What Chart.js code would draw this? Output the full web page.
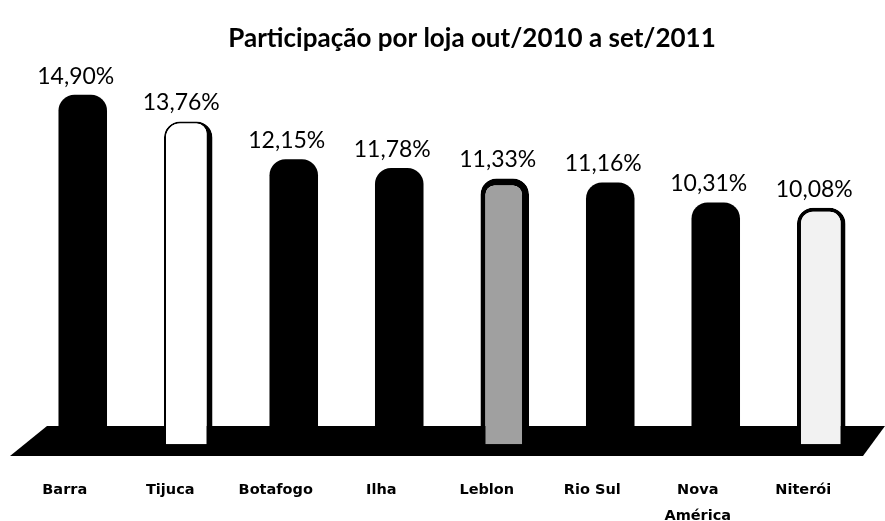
<!DOCTYPE html>
<html>
<head>
<meta charset="utf-8">
<script src="https://cdn.jsdelivr.net/npm/chart.js@4.4.1/dist/chart.umd.min.js"></script>
<style>
  html, body { margin: 0; padding: 0; background: #fff; }
  #wrap { width: 885px; height: 521px; }
</style>
</head>
<body>
<div id="wrap"><canvas id="lojasChart"></canvas></div>
<script>
// lojas e participação (%)
const lojas = ['Barra', 'Tijuca', 'Botafogo', 'Ilha', 'Leblon', 'Rio Sul', ['Nova', 'América'], 'Niterói'];
const participacao = [14.90, 13.76, 12.15, 11.78, 11.33, 11.16, 10.31, 10.08];

const tituloGrafico = 'Participação por loja out/2010 a set/2011';

// piso em "3D" desenhado atrás das barras
const pisoPlugin = {
    id: 'piso',
    beforeDatasetsDraw(chart) {
        const { ctx, chartArea } = chart;
        const fundo = chartArea.bottom - 30;
        const frente = chartArea.bottom;
        ctx.save();
        ctx.fillStyle = '#000';
        ctx.beginPath();
        ctx.moveTo(chartArea.left + 17, fundo);
        ctx.lineTo(chartArea.right + 11, fundo);
        ctx.lineTo(chartArea.right - 11, frente);
        ctx.lineTo(chartArea.left - 20, frente);
        ctx.closePath();
        ctx.fill();
        ctx.restore();
    }
};

// título e rótulos de valor acima das barras
const textosPlugin = {
    id: 'textos',
    afterDatasetsDraw(chart) {
        const { ctx } = chart;
        const meta = chart.getDatasetMeta(0);
        ctx.save();
        ctx.fillStyle = '#000';
        ctx.textAlign = 'center';

        ctx.font = 'bold 26px Lato';
        ctx.textBaseline = 'middle';
        ctx.fillText(tituloGrafico, 472, 39);

        ctx.font = '23px Lato';
        ctx.textBaseline = 'bottom';
        meta.data.forEach((bar, i) => {
            const txt = participacao[i].toFixed(2).replace('.', ',') + '%';
            ctx.fillText(txt, bar.x - 7, bar.y - 7);
        });
        ctx.restore();
    }
};

function corBarra(context) {
    const i = context.dataIndex;
    if (i === 1) return '#ffffff';
    if (i === 7) return '#f2f2f2';
    if (i === 4) {
        const bar = context.chart.getDatasetMeta(0).data[4];
        if (!bar || bar.x === undefined) return '#a0a0a0';
        const g = context.chart.ctx.createLinearGradient(bar.x - 24, 0, bar.x + 24, 0);
        g.addColorStop(0, '#8c8c8c');
        g.addColorStop(0.55, '#b4b4b4');
        g.addColorStop(0.75, '#f0f0f0');
        g.addColorStop(1, '#7a7a7a');
        return g;
    }
    return '#000000';
}

function bordaBarra(context) {
    const i = context.dataIndex;
    if (i === 1) return { left: 2, right: 6, top: 2, bottom: 0 };
    if (i === 4) return { left: 5, right: 7, top: 7, bottom: 0 };
    if (i === 7) return { left: 4, right: 5, top: 4, bottom: 0 };
    return 0;
}

const ctx = document.getElementById('lojasChart').getContext('2d');
new Chart(ctx, {
    type: 'bar',
    data: {
        labels: lojas,
        datasets: [{
            label: 'Participação',
            data: participacao,
            backgroundColor: corBarra,
            borderColor: '#000',
            borderWidth: bordaBarra,
            borderSkipped: 'bottom',
            borderRadius: { topLeft: 16, topRight: 16 },
            categoryPercentage: 1,
            barPercentage: 0.46
        }]
    },
    options: {
        responsive: true,
        maintainAspectRatio: false,
        animation: false,
        layout: { padding: { left: 30, right: 11, top: 69, bottom: 0 } },
        plugins: {
            legend: { display: false },
            tooltip: { enabled: false },
            title: { display: false }
        },
        scales: {
            x: {
                grid: { display: false, drawTicks: false },
                border: { display: false },
                ticks: {
                    color: '#000',
                    font: { family: 'DejaVu Sans', size: 14.5, weight: 'bold', lineHeight: 1.75 },
                    padding: 22,
                    labelOffset: -18,
                    maxRotation: 0,
                    autoSkip: false
                },
                afterFit(scale) { scale.height = 65; }
            },
            y: {
                display: false,
                min: -0.5,
                max: 16
            }
        }
    },
    plugins: [pisoPlugin, textosPlugin]
});
</script>
</body>
</html>
